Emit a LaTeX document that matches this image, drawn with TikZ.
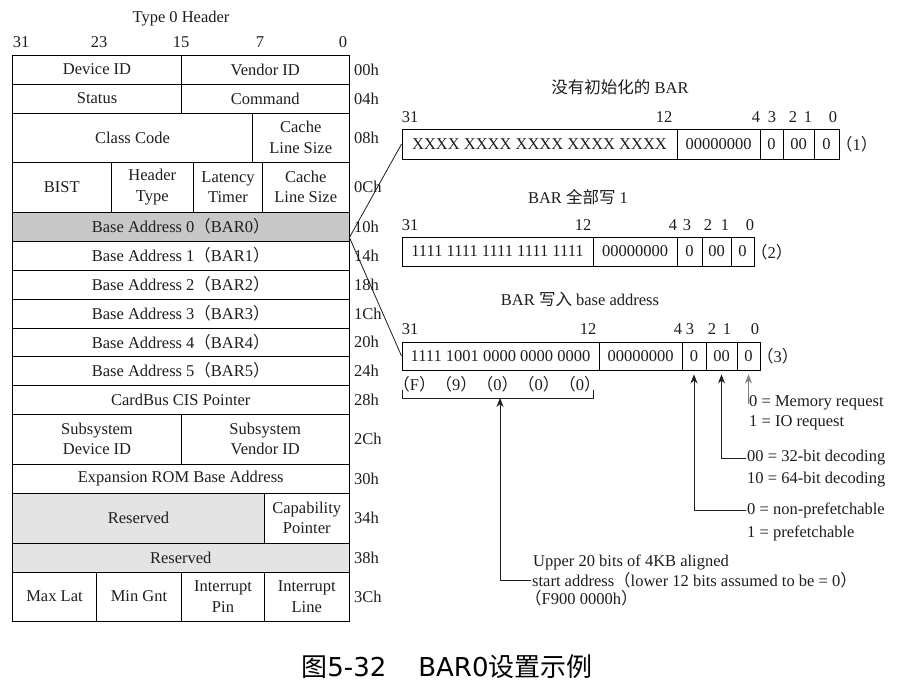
\documentclass[tikz,border=0pt]{standalone}
\usepackage{fontspec}
\setmainfont{Liberation Serif}
\newfontfamily\cjk{Noto Sans CJK SC}
\newfontfamily\capsans{DejaVu Sans}
\usetikzlibrary{arrows.meta,calc}
\definecolor{gdark}{RGB}{200,200,200}
\definecolor{glight}{RGB}{228,228,228}
\definecolor{ink}{RGB}{30,30,30}
\newcommand\lpar{{\cjk （}}
\newcommand\rpar{{\cjk ）}}
\newcommand\mycell[7][]{\node[cell,#1,minimum width={(#5-#3)*1pt},minimum height={(#6-#4)*1pt}] (#2) at ({(#3+#5)/2},{(#4+#6)/2}) {#7};}
\tikzset{
 base/.style={font=\fontsize{16.5}{20.5}\selectfont, text=ink},
 cell/.style={base, draw=black, line width=0.9pt, inner sep=0pt, align=center},
 lbl/.style={base, inner sep=0pt},
 off/.style={base, anchor=west, inner sep=0pt},
 note/.style={base, anchor=west, inner sep=1pt},
 conn/.style={draw=ink, line width=0.8pt},
 arr/.style={conn, -{Stealth[length=9pt,width=7pt]}, shorten >=4pt},
}
\begin{document}
\begin{tikzpicture}[x=1pt,y=-1pt]
\fill[white] (0,0) rectangle (908,692);
\useasboundingbox (0,0) rectangle (908,692);
% header
\node[lbl] (hdr0) at (181,19) {Type 0 Header};
\foreach \x/\t/\n in {21/31/h31,99/23/h23,181/15/h15,260/7/h7,343/0/h0}
  \node[lbl] (\n) at (\x,42) {\t};
% table
\mycell{dev}{12.5}{55}{181.5}{84}{Device ID}
\mycell{ven}{181.5}{55}{349}{84}{Vendor ID}
\mycell{sta}{12.5}{84}{181.5}{113}{Status}
\mycell{cmd}{181.5}{84}{349}{113}{Command}
\mycell{cls}{12.5}{113}{252.5}{162}{Class Code}
\mycell{cls2}{252.5}{113}{349}{162}{Cache\\Line Size}
\mycell{bist}{12.5}{162}{111}{212}{BIST}
\mycell{htype}{111}{162}{193.5}{212}{Header\\Type}
\mycell{lat}{193.5}{162}{262.5}{212}{Latency\\Timer}
\mycell{cache}{262.5}{162}{349}{212}{Cache\\Line Size}
\mycell[fill=gdark]{bar0}{12.5}{212}{349}{241}{Base Address 0\lpar BAR0\rpar}
\mycell{bar1}{12.5}{241}{349}{270}{Base Address 1\lpar BAR1\rpar}
\mycell{bar2}{12.5}{270}{349}{299}{Base Address 2\lpar BAR2\rpar}
\mycell{bar3}{12.5}{299}{349}{328}{Base Address 3\lpar BAR3\rpar}
\mycell{bar4}{12.5}{328}{349}{356}{Base Address 4\lpar BAR4\rpar}
\mycell{bar5}{12.5}{356}{349}{385}{Base Address 5\lpar BAR5\rpar}
\mycell{cis}{12.5}{385}{349}{414}{CardBus CIS Pointer}
\mycell{ssd}{12.5}{414}{181.5}{464}{Subsystem\\Device ID}
\mycell{ssv}{181.5}{414}{349}{464}{Subsystem\\Vendor ID}
\mycell{rom}{12.5}{464}{349}{493}{Expansion ROM Base Address}
\mycell[fill=glight]{res1}{12.5}{493}{264.5}{543}{Reserved}
\mycell{capp}{264.5}{493}{349}{543}{Capability\\Pointer}
\mycell[fill=glight]{res2}{12.5}{543}{349}{572}{Reserved}
\mycell{maxl}{12.5}{572}{96.5}{621}{Max Lat}
\mycell{ming}{96.5}{572}{181.5}{621}{Min Gnt}
\mycell{ipin}{181.5}{572}{264.5}{621}{Interrupt\\Pin}
\mycell{iline}{264.5}{572}{349}{621}{Interrupt\\Line}
% offsets
\foreach \y/\t/\n in {69.5/00h/o0,98.5/04h/o1,137.5/08h/o2,187/0Ch/o3,226.5/10h/o4,255.5/14h/o5,284.5/18h/o6,313.5/1Ch/o7,342/20h/o8,370.5/24h/o9,399.5/28h/o10,439/2Ch/o11,478.5/30h/o12,518/34h/o13,557.5/38h/o14,596.5/3Ch/o15}
  \node[off] (\n) at (354,\y) {\t};
% BAR (1)
\node[lbl] (t1) at (620,87) {{\cjk 没有初始化的} BAR};
\foreach \x/\t/\n in {410/31/a31,664/12/a12,756/4/a4,772/3/a3,793/2/a2,808/1/a1,833/0/a0}
  \node[lbl] (\n) at (\x,117) {\t};
\mycell{b1a}{402}{129}{677}{159}{XXXX XXXX XXXX XXXX XXXX}
\mycell{b1b}{677}{129}{760}{159}{00000000}
\mycell{b1c}{760}{129}{783}{159}{0}
\mycell{b1d}{783}{129}{814}{159}{00}
\mycell{b1e}{814}{129}{839}{159}{0}
\node[off] (p1) at (836,144) {\lpar 1\rpar};
% BAR (2)
\node[lbl] (t2) at (578,197) {BAR {\cjk 全部写} 1};
\foreach \x/\t/\n in {410/31/c31,583/12/c12,673/4/c4,687/3/c3,708/2/c2,725/1/c1,750/0/c0}
  \node[lbl] (\n) at (\x,225) {\t};
\mycell{b2a}{402}{237}{593}{266}{1111 1111 1111 1111 1111}
\mycell{b2b}{593}{237}{677}{266}{00000000}
\mycell{b2c}{677}{237}{702}{266}{0}
\mycell{b2d}{702}{237}{731}{266}{00}
\mycell{b2e}{731}{237}{754}{266}{0}
\node[off] (p2) at (751,252) {\lpar 2\rpar};
% BAR (3)
\node[lbl] (t3) at (580,299) {BAR {\cjk 写入} base address};
\foreach \x/\t/\n in {410/31/d31,588/12/d12,678/4/d4,690/3/d3,712/2/d2,727/1/d1,755/0/d0}
  \node[lbl] (\n) at (\x,329) {\t};
\mycell{b3a}{402}{342}{599}{370}{1111 1001 0000 0000 0000}
\mycell{b3b}{599}{342}{682}{370}{00000000}
\mycell{b3c}{682}{342}{706}{370}{0}
\mycell{b3d}{706}{342}{737}{370}{00}
\mycell{b3e}{737}{342}{760}{370}{0}
\node[off] (p3) at (757,356) {\lpar 3\rpar};
% bracket
\node[lbl] (brt) at (497,384) {\lpar F\rpar\lpar 9\rpar\lpar 0\rpar\lpar 0\rpar\lpar 0\rpar};
\coordinate (brl) at (402,398);
\coordinate (brr) at (593,398);
\coordinate (brm) at (500,398);
\draw[conn] (402,390) -- (brl) -- (brr) -- (593,390);
% notes
\node[note] (u1) at (532,562) {Upper 20 bits of 4KB aligned};
\node[note] (u2) at (531,580) {start address\lpar lower 12 bits assumed to be = 0\rpar};
\node[note] (u3) at (524,598) {\lpar F900 0000h\rpar};
\node[note] (m1) at (748,403) {0 = Memory request};
\node[note] (m2) at (748,423) {1 = IO request};
\node[note] (d1) at (746,458) {00 = 32-bit decoding};
\node[note] (d2) at (746,480) {10 = 64-bit decoding};
\node[note] (f1) at (746,510) {0 = non-prefetchable};
\node[note] (f2) at (746,533) {1 = prefetchable};
% arrows
\draw[arr, shorten >=0pt] (u2.west) -| (brm);
\draw[arr] (f1.west) -| (b3c.south);
\draw[arr] (d1.west) -| (b3d.south);
\draw[arr, draw=gray, line width=0.6pt] (m1.west) -| (b3e.south);
% connectors from BAR0
\coordinate (b0c) at ($(bar0.south east)+(0,-4)$);
\draw[conn] (b0c) -- (b1a.west);
\draw[conn] (b0c) -- (b3a.west);
% caption
\node[inner sep=0pt, text=black] (cap) at (447,667) {\fontsize{26}{30}\selectfont{\cjk 图}{\capsans 5-32}\hspace{32pt}{\capsans BAR0}{\cjk 设置示例}};
\end{tikzpicture}
\end{document}
